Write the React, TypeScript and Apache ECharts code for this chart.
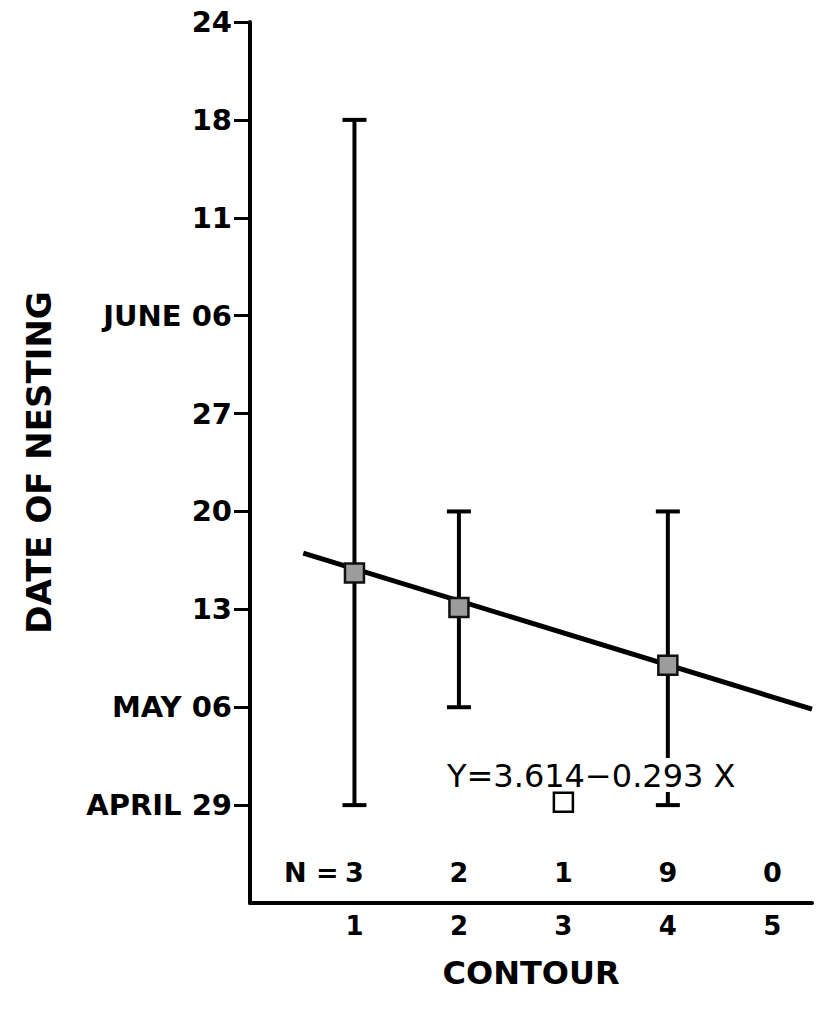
import React, { useEffect, useRef } from "react";
import * as echarts from "echarts";

const yTickLabels = ["", "APRIL 29", "MAY 06", "13", "20", "27", "JUNE 06", "11", "18", "24"];
const yTickValues = [1, 2, 3, 4, 5, 6, 7, 8, 9];
const contours = [1, 2, 3, 4, 5];
const sampleSizes = [3, 2, 1, 9, 0];
// [contour, low, high]
const errorBars = [
  [1, 1, 8],
  [2, 2, 4],
  [4, 1, 4],
];
// [contour, mean]
const means = [
  [1, 3.37],
  [2, 3.02],
  [4, 2.43],
];
const singlePoint = [[3, 1.03]];
const regressionLine = [
  [0.51, 3.575],
  [5.38, 1.98],
];
const equationText = "Y=3.614\u22120.293 X";

const FONT = "'DejaVu Sans', 'Liberation Sans', Arial, sans-serif";

export default function App() {
  const ref = useRef<HTMLDivElement>(null);
  useEffect(() => {
    if (!ref.current) return;
    const chart = echarts.init(ref.current, undefined, { renderer: "svg" });
    chart.setOption({
      animation: false,
      backgroundColor: "#ffffff",
      grid: { left: 250, right: 8, top: 22, bottom: 111, containLabel: false },
      xAxis: {
        type: "value",
        min: 0,
        max: 5.38,
        interval: 1,
        splitLine: { show: false },
        axisTick: { show: false },
        axisLine: { lineStyle: { color: "#000", width: 4 } },
        axisLabel: {
          color: "#000",
          fontFamily: FONT,
          fontWeight: "bold",
          fontSize: 26,
          margin: 10,
          formatter: (v: number) => (contours.includes(v) ? String(v) : ""),
        },
        name: "CONTOUR",
        nameLocation: "middle",
        nameGap: 54,
        nameTextStyle: { color: "#000", fontFamily: FONT, fontWeight: "bold", fontSize: 32 },
      },
      yAxis: {
        type: "value",
        min: 0,
        max: 9,
        interval: 1,
        splitLine: { show: false },
        axisLine: { lineStyle: { color: "#000", width: 4 } },
        axisTick: { length: 16, customValues: yTickValues, lineStyle: { color: "#000", width: 3 } },
        axisLabel: {
          color: "#000",
          fontFamily: FONT,
          fontWeight: "bold",
          fontSize: 29,
          margin: 18,
          customValues: yTickValues,
          formatter: (v: number) => yTickLabels[Math.round(v)] ?? "",
        },
        name: "DATE OF NESTING",
        nameLocation: "middle",
        nameGap: 194,
        nameTextStyle: { color: "#000", fontFamily: FONT, fontWeight: "bold", fontSize: 34 },
      },
      series: [
        {
          type: "custom",
          data: errorBars,
          z: 3,
          renderItem: (params: any, api: any) => {
            const x = api.value(0);
            const top = api.coord([x, api.value(2)]);
            const bot = api.coord([x, api.value(1)]);
            const cap = 12;
            const style = { stroke: "#000", lineWidth: 4 };
            return {
              type: "group",
              children: [
                { type: "line", shape: { x1: top[0], y1: top[1], x2: bot[0], y2: bot[1] }, style },
                { type: "line", shape: { x1: top[0] - cap, y1: top[1], x2: top[0] + cap, y2: top[1] }, style },
                { type: "line", shape: { x1: bot[0] - cap, y1: bot[1], x2: bot[0] + cap, y2: bot[1] }, style },
              ],
            };
          },
        },
        {
          type: "line",
          data: regressionLine,
          symbol: "none",
          z: 4,
          lineStyle: { color: "#000", width: 5 },
        },
        {
          type: "scatter",
          data: means,
          symbol: "rect",
          symbolSize: 19,
          z: 6,
          itemStyle: { color: "#9c9c9c", borderColor: "#111", borderWidth: 2.5, opacity: 1 },
        },
        {
          type: "scatter",
          data: singlePoint,
          symbol: "rect",
          symbolSize: 19,
          z: 7,
          itemStyle: { color: "#fff", borderColor: "#000", borderWidth: 2.5, opacity: 1 },
        },
        {
          type: "scatter",
          data: contours.map((c, i) => [c, 0.31, sampleSizes[i]]),
          symbolSize: 1,
          z: 7,
          itemStyle: { opacity: 0 },
          label: {
            show: true,
            position: "inside",
            color: "#000",
            opacity: 1,
            fontFamily: FONT,
            fontWeight: "bold",
            fontSize: 27,
            formatter: (p: any) => String(p.value[2]),
          },
        },
      ],
      graphic: [
        {
          type: "text",
          left: 284,
          top: 859,
          z: 5,
          style: {
            text: "N =",
            fill: "#000",
            font: `bold 27px ${FONT}`,
          },
        },
        {
          type: "text",
          left: 445,
          top: 758,
          z: 5,
          style: {
            text: equationText,
            fill: "#000",
            font: `32px ${FONT}`,
            backgroundColor: "#fff",
            padding: [2, 2, 0, 2],
          },
        },
      ],
    });
    return () => chart.dispose();
  }, []);
  return <div ref={ref} style={{ position: "fixed", left: 0, top: 0, width: 820, height: 1014 }} />;
}
